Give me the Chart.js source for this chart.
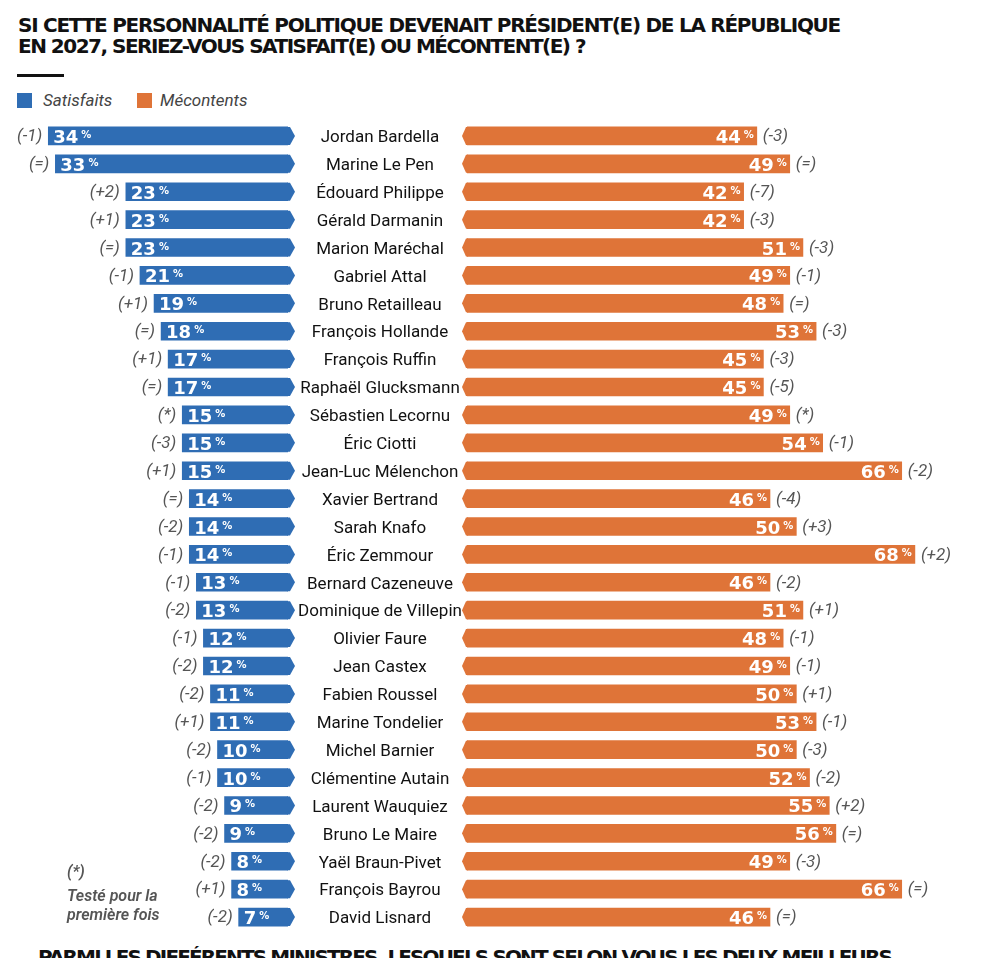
<!DOCTYPE html>
<html lang="fr">
<head>
<meta charset="utf-8">
<script src="https://cdn.jsdelivr.net/npm/chart.js@4.4.1/dist/chart.umd.min.js"></script>
<style>
  html, body { margin: 0; padding: 0; background: #fff; }
  body { width: 1000px; height: 958px; overflow: hidden; position: relative; font-family: Roboto, sans-serif; }
  .title { position: absolute; left: 18px; font: bold 20px/21px "DejaVu Sans", sans-serif; color: #111; white-space: nowrap; }
  .rule { position: absolute; left: 17px; top: 74px; width: 47px; height: 3px; background: #111; }
  .sw { position: absolute; top: 93px; width: 15px; height: 15px; }
  .lg { position: absolute; top: 90px; font: italic 17px/20px Roboto, sans-serif; color: #444; }
  .note { position: absolute; left: 67px; font: italic 600 16px/18px Roboto, sans-serif; color: #555; }
  .box { position: absolute; top: 122px; height: 809px; }
</style>
</head>
<body>
<div class="title" style="top:15px" data-w="822">SI CETTE PERSONNALITÉ POLITIQUE DEVENAIT PRÉSIDENT(E) DE LA RÉPUBLIQUE</div>
<div class="title" style="top:36px" data-w="567">EN 2027, SERIEZ-VOUS SATISFAIT(E) OU MÉCONTENT(E) ?</div>
<div class="rule"></div>

<div class="sw" style="left:17px;background:#2f6db4"></div>
<div class="lg" style="left:43px">Satisfaits</div>
<div class="sw" style="left:137px;background:#df7438"></div>
<div class="lg" style="left:160px">Mécontents</div>

<div class="box" style="left:0;width:300px"><canvas id="satis"></canvas></div>
<div class="box" style="left:296px;width:704px"><canvas id="mecon"></canvas></div>

<div class="note" style="top:863px">(*)</div>
<div class="note" style="top:887px">Testé pour la</div>
<div class="note" style="top:906px">première fois</div>

<div class="title" style="top:947px;left:38px" data-w="853">PARMI LES DIFFÉRENTS MINISTRES, LESQUELS SONT SELON VOUS LES DEUX MEILLEURS</div>

<script>
const names = [
  "Jordan Bardella", "Marine Le Pen", "Édouard Philippe", "Gérald Darmanin", "Marion Maréchal",
  "Gabriel Attal", "Bruno Retailleau", "François Hollande", "François Ruffin", "Raphaël Glucksmann",
  "Sébastien Lecornu", "Éric Ciotti", "Jean-Luc Mélenchon", "Xavier Bertrand", "Sarah Knafo",
  "Éric Zemmour", "Bernard Cazeneuve", "Dominique de Villepin", "Olivier Faure", "Jean Castex",
  "Fabien Roussel", "Marine Tondelier", "Michel Barnier", "Clémentine Autain", "Laurent Wauquiez",
  "Bruno Le Maire", "Yaël Braun-Pivet", "François Bayrou", "David Lisnard"
];
const satisfaits = [34, 33, 23, 23, 23, 21, 19, 18, 17, 17, 15, 15, 15, 14, 14, 14, 13, 13, 12, 12, 11, 11, 10, 10, 9, 9, 8, 8, 7];
const satisfaitsEvol = ["(-1)", "(=)", "(+2)", "(+1)", "(=)", "(-1)", "(+1)", "(=)", "(+1)", "(=)",
  "(*)", "(-3)", "(+1)", "(=)", "(-2)", "(-1)", "(-1)", "(-2)", "(-1)", "(-2)",
  "(-2)", "(+1)", "(-2)", "(-1)", "(-2)", "(-2)", "(-2)", "(+1)", "(-2)"];
const mecontents = [44, 49, 42, 42, 51, 49, 48, 53, 45, 45, 49, 54, 66, 46, 50, 68, 46, 51, 48, 49, 50, 53, 50, 52, 55, 56, 49, 66, 46];
const mecontentsEvol = ["(-3)", "(=)", "(-7)", "(-3)", "(-3)", "(-1)", "(=)", "(-3)", "(-3)", "(-5)",
  "(*)", "(-1)", "(-2)", "(-4)", "(+3)", "(+2)", "(-2)", "(+1)", "(-1)", "(-1)",
  "(+1)", "(-1)", "(-3)", "(-2)", "(+2)", "(=)", "(-3)", "(=)", "(=)"];

const BLUE = "#2f6db4";
const ORANGE = "#df7438";
const NAME_FONT = "17px Roboto";

// stretch the headline lines to the width they have in print
document.querySelectorAll("[data-w]").forEach(el => {
  const w = el.getBoundingClientRect().width;
  el.style.letterSpacing = ((+el.dataset.w - w) / el.textContent.length) + "px";
});

// arrow at the bar's base + value and evolution labels
const barDecor = {
  id: "barDecor",
  afterDatasetsDraw(chart, args, opts) {
    const ctx = chart.ctx;
    const values = chart.data.datasets[0].data;
    chart.getDatasetMeta(0).data.forEach((bar, i) => {
      const { x, y, base, height } = bar.getProps(["x", "y", "base", "height"], true);
      const top = y - height / 2, bot = y + height / 2;
      const left = opts.side === "left";
      ctx.save();
      ctx.fillStyle = opts.color;
      ctx.beginPath();
      if (left) {
        ctx.moveTo(base - 1, top); ctx.lineTo(base + 2, top); ctx.lineTo(base + 7, y);
        ctx.lineTo(base + 2, bot); ctx.lineTo(base - 1, bot);
      } else {
        ctx.moveTo(base + 1, top); ctx.lineTo(base - 1, top); ctx.lineTo(base - 5, y);
        ctx.lineTo(base - 1, bot); ctx.lineTo(base + 1, bot);
      }
      ctx.closePath();
      ctx.fill();

      const num = String(values[i]);
      ctx.fillStyle = "#fff";
      ctx.textAlign = "left";
      ctx.textBaseline = "alphabetic";
      ctx.font = 'bold 18px "DejaVu Sans"';
      const nw = ctx.measureText(num).width;
      ctx.font = 'bold 10px "DejaVu Sans"';
      const pw = ctx.measureText("%").width;
      const nx = left ? x + 5 : x - 3 - pw - 3 - nw;
      ctx.font = 'bold 18px "DejaVu Sans"';
      ctx.fillText(num, nx, y + 7);
      ctx.font = 'bold 10px "DejaVu Sans"';
      ctx.fillText("%", nx + nw + 3, y + 2);

      ctx.font = "italic 17px Roboto";
      ctx.fillStyle = "#555";
      ctx.textBaseline = "middle";
      ctx.textAlign = left ? "right" : "left";
      ctx.fillText(opts.evol[i], left ? x - 6 : x + 6, y + 1);
      ctx.restore();
    });
  }
};

// centre the names around x = 380 on the page
const measure = document.createElement("canvas").getContext("2d");
measure.font = NAME_FONT;
const widest = Math.max(...names.map(n => measure.measureText(n).width));
const namePad = Math.max(0, 87 - widest / 2);

new Chart(document.getElementById("satis"), {
  type: "bar",
  data: {
    labels: names,
    datasets: [{ data: satisfaits, backgroundColor: BLUE, barThickness: 18 }],
  },
  options: {
    indexAxis: "y",
    responsive: true,
    maintainAspectRatio: false,
    animation: false,
    layout: { padding: { left: 6, right: 12, top: 0, bottom: 0 } },
    scales: {
      x: { display: false, reverse: true, min: 0, max: 40 },
      y: { display: false },
    },
    plugins: {
      legend: { display: false },
      tooltip: { enabled: false },
      barDecor: { side: "left", color: BLUE, evol: satisfaitsEvol },
    },
  },
  plugins: [barDecor],
});

new Chart(document.getElementById("mecon"), {
  type: "bar",
  data: {
    labels: names,
    datasets: [{ data: mecontents, backgroundColor: ORANGE, barThickness: 18 }],
  },
  options: {
    indexAxis: "y",
    responsive: true,
    maintainAspectRatio: false,
    animation: false,
    layout: { padding: { left: 0, right: 39, top: 0, bottom: 0 } },
    scales: {
      x: { display: false, min: 0, max: 75 },
      y: {
        position: "left",
        grid: { display: false, drawTicks: true, tickLength: namePad },
        border: { display: false },
        ticks: { crossAlign: "center", padding: 0, labelOffset: 2, color: "#111", font: { family: "Roboto", size: 17 } },
        afterFit: s => { s.width = 171; s.paddingTop = 0; s.paddingBottom = 0; },
      },
    },
    plugins: {
      legend: { display: false },
      tooltip: { enabled: false },
      barDecor: { side: "right", color: ORANGE, evol: mecontentsEvol },
    },
  },
  plugins: [barDecor],
});
</script>
</body>
</html>
